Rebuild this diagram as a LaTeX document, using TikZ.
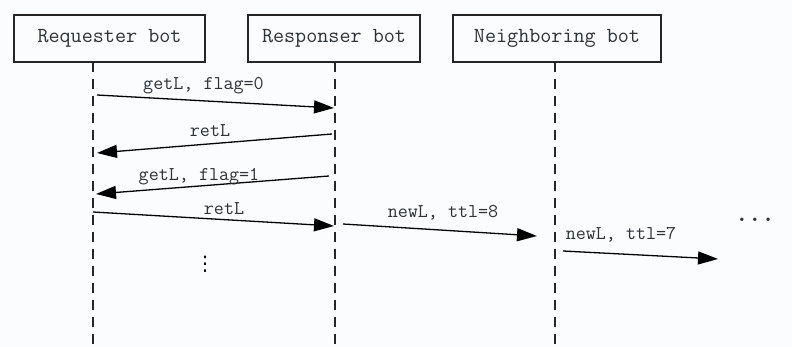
\documentclass[tikz,border=0pt]{standalone}
\usepackage{fontspec}
\usetikzlibrary{arrows.meta}
\newfontfamily\dotsfont{DejaVu Sans}
\definecolor{bgcol}{RGB}{251,252,254}
\definecolor{txtcol}{RGB}{45,50,54}
\begin{document}
\begin{tikzpicture}[x=1pt,y=-1pt,
  actor/.style={draw=black!85,line width=1.4pt,minimum height=47pt,inner sep=0pt,
    text=txtcol,font=\ttfamily\fontsize{21.5}{24}\selectfont},
  lifeline/.style={draw=black!85,line width=1.7pt,dash pattern=on 10pt off 7pt},
  msg/.style={draw=black,line width=1.3pt,-{Triangle[length=20pt,width=13pt]}},
  lbl/.style={text=txtcol,inner sep=0pt,font=\ttfamily\fontsize{19.5}{22}\selectfont}]
  % canvas
  \fill[bgcol] (0,0) rectangle (792,347);
  \useasboundingbox (0,0) rectangle (792,347);

  % participants
  \node[actor,minimum width=191pt] (req) at (109.5,38.5) {Requester bot};
  \node[actor,minimum width=172pt] (res) at (334,38.5) {Responser bot};
  \node[actor,minimum width=208pt] (nb)  at (557,38.5) {Neighboring bot};

  % lifelines
  \coordinate (reqtop) at (93,62);
  \coordinate (restop) at (335,62);
  \coordinate (nbtop)  at (555,62);
  \coordinate (reqbot) at (93,347);
  \coordinate (resbot) at (335,347);
  \coordinate (nbbot)  at (555,347);
  \draw[lifeline] (reqtop) -- (reqbot);
  \draw[lifeline] (restop) -- (resbot);
  \draw[lifeline] (nbtop) -- (nbbot);

  % message end points
  \coordinate (m1a) at (97,95);   \coordinate (m1b) at (334,108);
  \coordinate (m2a) at (332,134); \coordinate (m2b) at (97,153);
  \coordinate (m3a) at (329,176); \coordinate (m3b) at (96,194);
  \coordinate (m4a) at (93,212);  \coordinate (m4b) at (334,226);
  \coordinate (m5a) at (343,224); \coordinate (m5b) at (537,236);
  \coordinate (m6a) at (563,251); \coordinate (m6b) at (718,259);

  % messages
  \draw[msg] (m1a) -- (m1b);
  \draw[msg] (m2a) -- (m2b);
  \draw[msg] (m3a) -- (m3b);
  \draw[msg] (m4a) -- (m4b);
  \draw[msg] (m5a) -- (m5b);
  \draw[msg] (m6a) -- (m6b);

  % message labels
  \node[lbl] (l1) at (203.5,86) {getL, flag=0};
  \node[lbl] (l2) at (210,131) {retL};
  \node[lbl] (l3) at (199,177) {getL, flag=1};
  \node[lbl] (l4) at (224,209) {retL};
  \node[lbl] (l5) at (443,213) {newL, ttl=8};
  \node[lbl] (l6) at (621,235) {newL, ttl=7};

  % continuation marks
  \node[lbl,font=\ttfamily\bfseries\fontsize{25}{28}\selectfont] (more) at (755,220) {...};
  \node[inner sep=0pt,text=black,font=\dotsfont\fontsize{20}{22}\selectfont] (vdots) at (205,264) {⋮};
\end{tikzpicture}
\end{document}
